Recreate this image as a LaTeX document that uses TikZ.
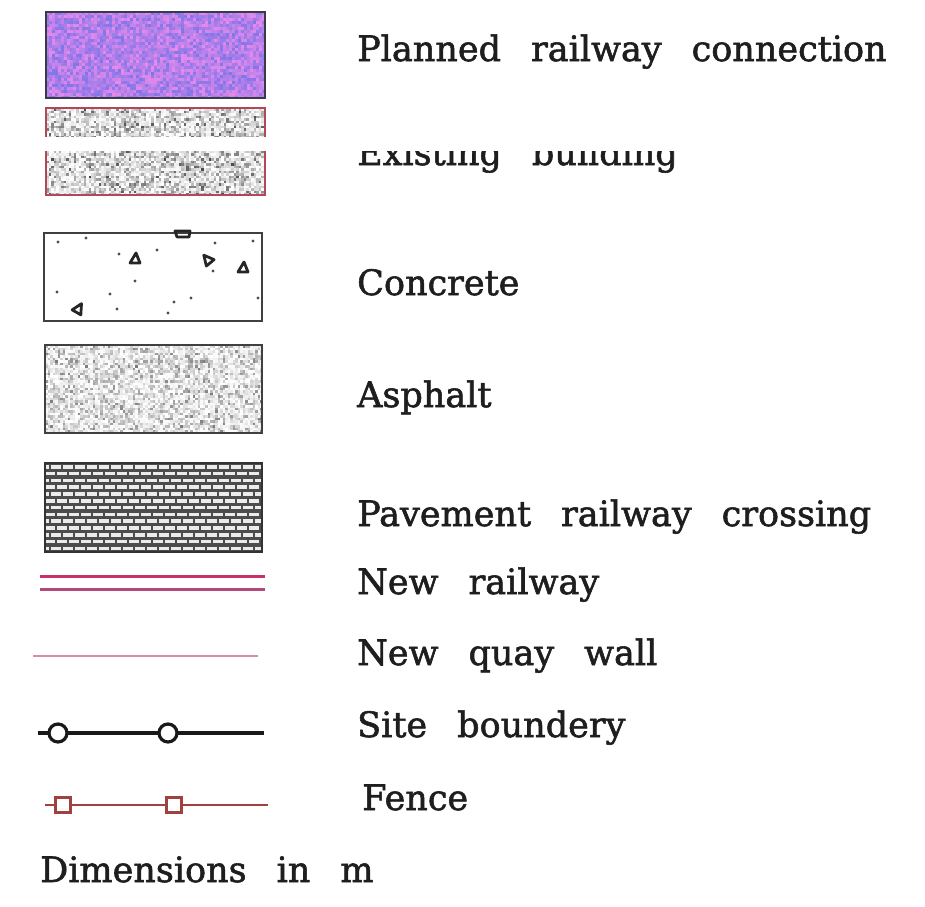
\documentclass[tikz,border=0pt]{standalone}
\usepackage{fontspec}
\setmainfont{DejaVu Serif}[WordSpace=2.7, FakeBold=1.6]
\definecolor{txt}{HTML}{1E1E1E}
\definecolor{pBlue}{RGB}{128,118,232}
\definecolor{pPink}{RGB}{232,138,236}
\definecolor{frameDark}{HTML}{3A3A48}
\definecolor{frameRed}{HTML}{B04858}
\definecolor{railA}{HTML}{C8306A}
\definecolor{railB}{HTML}{B04A78}
\definecolor{quay}{HTML}{DC8CA0}
\definecolor{fence}{HTML}{A04040}
\definecolor{brickBg}{HTML}{4C4C4C}
\tikzset{
  lbl/.style={anchor=base west, inner sep=0pt, text=txt, font=\fontsize{35}{40}\selectfont},
  swframe/.style={line width=2pt},
  tri/.style={line width=2.8pt, line join=round, draw=black!85},
  rail/.style={line width=3pt},
  boundpt/.style={circle, draw=black!90, fill=white, line width=3.2pt, minimum size=18pt, inner sep=0pt},
  fencept/.style={rectangle, draw=fence, fill=white, line width=3pt, minimum size=15pt, inner sep=0pt},
}
\begin{document}
\begin{tikzpicture}[x=1pt,y=-1pt]
\useasboundingbox (0,0) rectangle (925,906);
\pgfmathsetseed{7}

% --- planned railway connection: mottled violet
\begin{scope}
  \clip (46,12) rectangle (265,98);
  \foreach \x in {46,49,...,263}{
    \foreach \y in {12,15,...,96}{
      \pgfmathsetmacro\m{int(100*rnd)}
      \fill[pPink!\m!pBlue] (\x,\y) rectangle ++(3,3);
    }}
\end{scope}
\draw[swframe, frameDark] (46,12) rectangle (265,98);

% --- existing building: grey speckle
\begin{scope}
  \clip (46,108) rectangle (265,195);
  \foreach \x in {46,48.5,...,264}{
    \foreach \y in {108,110.5,...,194}{
      \pgfmathsetmacro\m{int(75*rnd*rnd)}
      \fill[black!\m] (\x,\y) rectangle ++(2.5,2.5);
    }}
\end{scope}
\draw[swframe, frameRed] (46,108) rectangle (265,195);

% --- concrete
\draw[line width=1.8pt, black!75] (44,233) rectangle (262,321);
\foreach \p in {(58,242),(86,238),(119,254),(157,250),(215,243),(253,241),(213,271),
                (135,281),(57,292),(110,294),(174,302),(191,298),(117,309),(168,313),(258,298)}
  \fill[black!70] \p circle (1.6);
\draw[tri] (135,258) ++(-5,5) -- ++(10,0) -- ++(-4,-10) -- cycle;
\draw[tri, rotate around={40:(207,259)}] (207,259) ++(-5,5) -- ++(10,0) -- ++(-5,-10) -- cycle;
\draw[tri] (243,267) ++(-5,5) -- ++(10,0) -- ++(-4,-10) -- cycle;
\draw[tri, rotate around={-30:(79,308)}] (79,308) ++(-5,5) -- ++(10,0) -- ++(-5,-10) -- cycle;
\draw[tri] (175,231) -- (190,231) -- (189,237) -- (177,237) -- cycle;

% --- asphalt: fine light speckle
\begin{scope}
  \clip (45,345) rectangle (262,433);
  \foreach \x in {45,47.5,...,261}{
    \foreach \y in {345,347.5,...,432}{
      \pgfmathsetmacro\m{int(55*rnd*rnd)}
      \fill[black!\m] (\x,\y) rectangle ++(2.5,2.5);
    }}
\end{scope}
\draw[swframe, black!75] (45,345) rectangle (262,433);

% --- pavement railway crossing: bricks
\fill[brickBg] (45,463) rectangle (262,552);
\begin{scope}
  \clip (45,463) rectangle (262,552);
  \foreach \r in {0,...,12}{
    \pgfmathsetmacro\yy{465+\r*6.8}
    \pgfmathsetmacro\off{mod(\r,2)*6}
    \foreach \k in {0,...,19}{
      \fill[white!92!black] ({39+\off+\k*12},\yy) rectangle ++(10,3.6);
    }}
\end{scope}
\draw[swframe, black!80] (45,463) rectangle (262,552);

% --- new railway
\coordinate (r1a) at (40,576);  \coordinate (r1b) at (265,576);
\coordinate (r2a) at (40,589);  \coordinate (r2b) at (265,589);
\draw[rail, railA] (r1a) -- (r1b);
\draw[rail, railB] (r2a) -- (r2b);

% --- new quay wall
\coordinate (qa) at (33,656); \coordinate (qb) at (258,656);
\draw[line width=1.6pt, quay] (qa) -- (qb);

% --- site boundary
\coordinate (sa) at (38,733); \coordinate (sb) at (264,733);
\draw[line width=3.2pt, black!90] (sa) -- (sb);
\node[boundpt] (s1) at (58,733) {};
\node[boundpt] (s2) at (168,733) {};

% --- fence
\coordinate (fa) at (45,805); \coordinate (fb) at (268,805);
\draw[line width=2.8pt, fence] (fa) -- (fb);
\node[fencept] (f1) at (63,805) {};
\node[fencept] (f2) at (174,805) {};

% --- labels
\node[lbl] (t1) at (357,61)  {Planned railway connection};
\node[lbl] (t2) at (357,165) {Existing building};
\node[lbl] (t3) at (357,295) {Concrete};
\node[lbl] (t4) at (357,407) {Asphalt};
\node[lbl] (t5) at (357,526) {Pavement railway crossing};
\node[lbl] (t6) at (357,594) {New railway};
\node[lbl] (t7) at (357,665) {New quay wall};
\node[lbl] (t8) at (357,737) {Site boundery};
\node[lbl] (t9) at (362,810) {Fence};
\node[lbl] (t10) at (40,882) {Dimensions in m};

% white strip across the existing-building row
\fill[white] (30,137) rectangle (925,151);
\end{tikzpicture}
\end{document}
